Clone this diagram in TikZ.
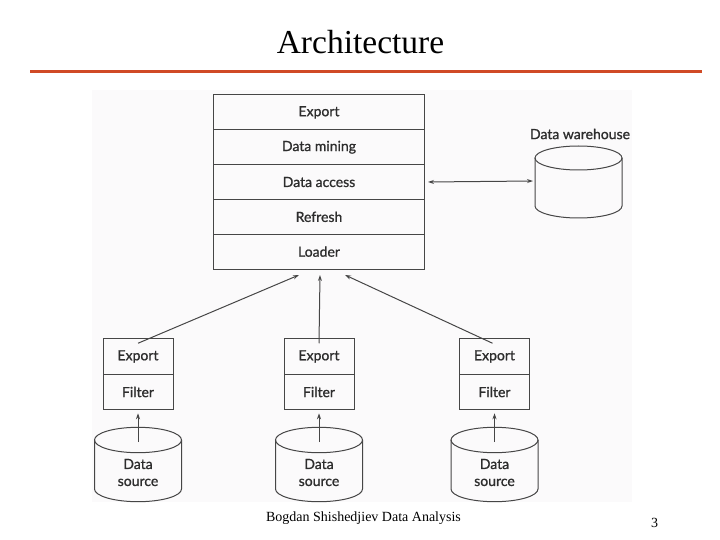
\documentclass[tikz,border=0pt]{standalone}
\usepackage{fontspec}
\setmainfont{Liberation Serif}
\newfontfamily\diafont[FakeBold=1]{Lato}
\usetikzlibrary{arrows.meta}
\definecolor{rule}{RGB}{208,74,38}
\definecolor{ink}{RGB}{70,70,70}
\definecolor{txt}{RGB}{45,45,45}
\definecolor{picbg}{RGB}{251,250,251}
\tikzset{
  layer/.style={draw=ink, line width=1pt, minimum width=211pt, minimum height=34.8pt, inner sep=0pt, font=\diafont\fontsize{14}{16}\selectfont, text=txt},
  smallbox/.style={draw=ink, line width=1pt, minimum width=70pt, minimum height=35.5pt, inner sep=0pt, font=\diafont\fontsize{14}{16}\selectfont, text=txt},
  lbl/.style={font=\diafont\fontsize{14}{16}\selectfont, text=txt, inner sep=0pt},
  cylline/.style={draw=ink, line width=1pt},
  conn/.style={draw=ink, line width=1pt, -{Stealth[length=6pt,width=4pt]}},
  biconn/.style={draw=ink, line width=1pt, {Stealth[length=6pt,width=4pt]}-{Stealth[length=6pt,width=4pt]}},
}
\begin{document}
\begin{tikzpicture}[x=1pt,y=-1pt]
\useasboundingbox (0,0) rectangle (720,540);
\fill[white] (0,0) rectangle (720,540);
\fill[picbg] (92,90) rectangle (632,502);
% title
\node[font=\fontsize{33.5}{36}\selectfont, anchor=base, inner sep=0pt] (title) at (360.5,54) {Architecture};
\draw[rule, line width=3pt] (30,72) -- (702,72);
% main stack
\node[layer] (export) at (319,112.4) {Export};
\node[layer] (mining) at (319,147.2) {Data mining};
\node[layer] (access) at (319,182) {Data access};
\node[layer] (refresh) at (319,216.8) {Refresh};
\node[layer] (loader) at (319,251.6) {Loader};
% data warehouse
\node[lbl] (dwlabel) at (580,134) {Data warehouse};
\path[cylline] (535,158) -- (535,206) arc[start angle=180,end angle=0,x radius=43.5,y radius=12] -- (622,158);
\draw[cylline] (578.5,158) ellipse[x radius=43.5,y radius=12];
\coordinate (dw) at (533,181);
\draw[biconn] (access.east) ++(3,0) coordinate (accr) (accr) -- (dw);
% sources
\foreach \i/\cx in {1/138,2/319,3/494.5}{
  \node[smallbox] (exp\i) at (\cx,356.5) {Export};
  \node[smallbox] (fil\i) at (\cx,392) {Filter};
  \path[cylline] (\cx-43.5,440) -- (\cx-43.5,489) arc[start angle=180,end angle=0,x radius=43.5,y radius=12.7] -- (\cx+43.5,440);
  \draw[cylline] (\cx,440) ellipse[x radius=43.5,y radius=12.7];
  \node[lbl, align=center, font=\diafont\fontsize{14}{17}\selectfont] (src\i) at (\cx,472.5) {Data\\source};
  \coordinate (srctop\i) at (\cx,442);
  \draw[conn] (srctop\i) -- ([yshift=-3pt]fil\i.south);
}
\coordinate (t1) at (299,275);
\coordinate (t2) at (320,275);
\coordinate (t3) at (345,275);
\draw[conn] ([yshift=-5pt]exp1.north) -- (t1);
\draw[conn] ([yshift=-5pt]exp2.north) -- (t2);
\draw[conn] ([xshift=-2pt,yshift=-5pt]exp3.north) -- (t3);
% footer
\node[anchor=base, inner sep=0pt, font=\fontsize{14}{16}\selectfont] (footer) at (363.5,521) {Bogdan Shishedjiev Data Analysis};
\node[anchor=base, inner sep=0pt, font=\fontsize{14}{16}\selectfont] (pagenum) at (654.5,527) {3};
\end{tikzpicture}
\end{document}
